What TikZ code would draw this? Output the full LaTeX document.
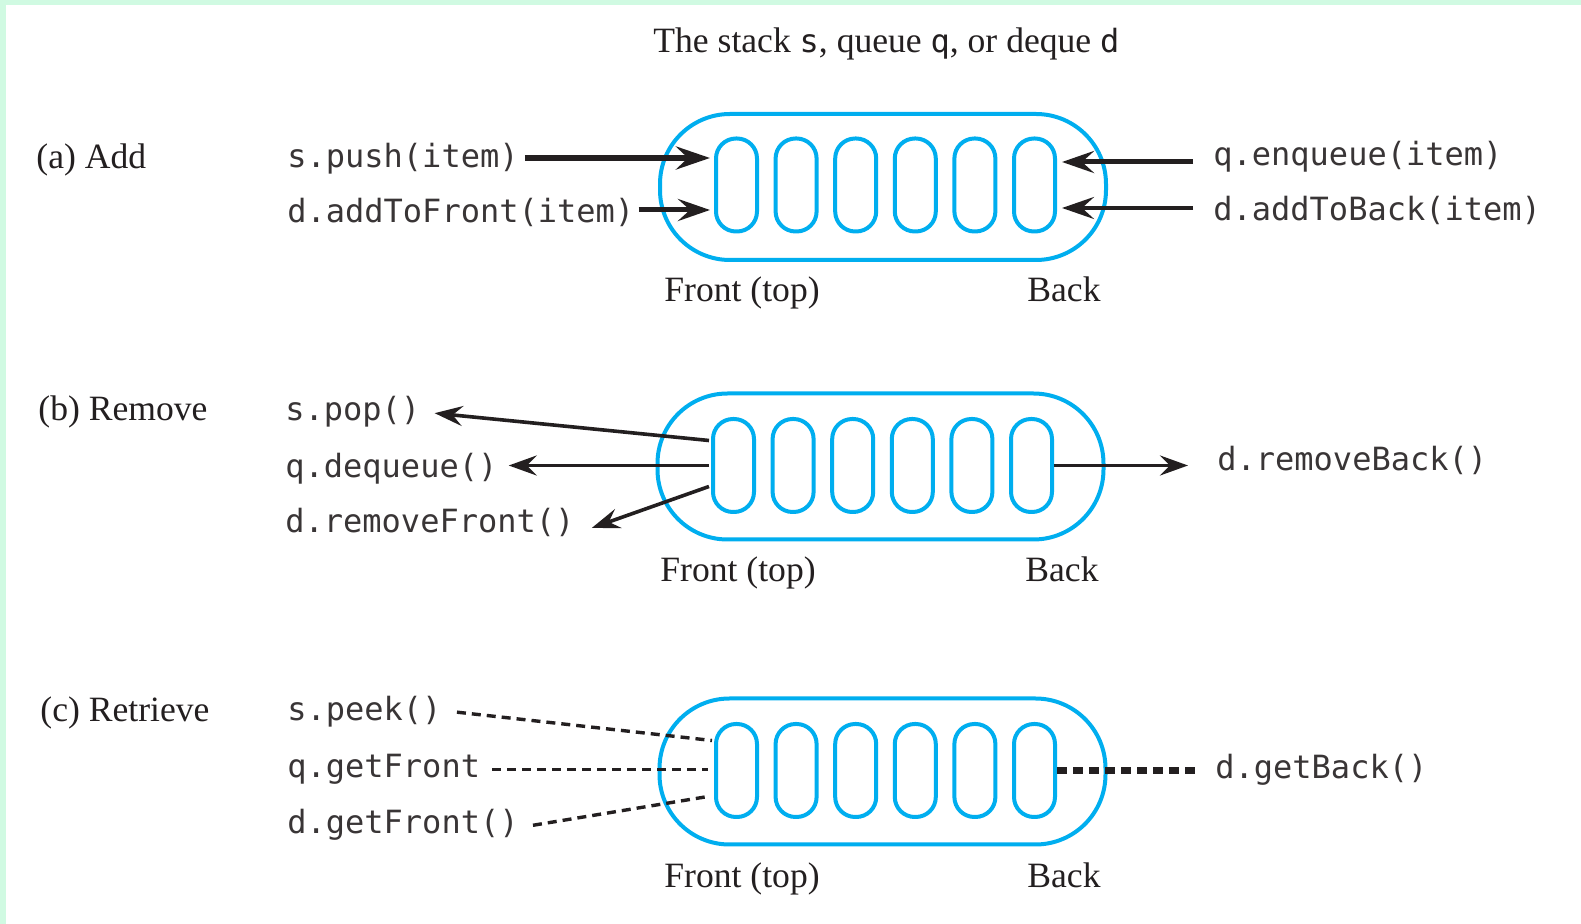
\documentclass[tikz,border=0pt]{standalone}
\usepackage{fontspec}
\setmainfont{Liberation Serif}
\setmonofont{DejaVu Sans Mono}
\usetikzlibrary{arrows.meta,calc}
\definecolor{qblue}{RGB}{0,174,239}
\definecolor{ink}{RGB}{35,31,32}
\definecolor{mint}{RGB}{208,250,226}
\newcommand\cc[1]{{\fontsize{16}{19}\selectfont\ttfamily #1}}
\begin{document}
\begin{tikzpicture}[x=0.5pt,y=-0.5pt,
  outerbox/.style={draw=qblue, line width=2pt, rounded corners=35pt, minimum width=223pt, minimum height=73pt, inner sep=0pt},
  capbox/.style={draw=qblue, line width=2pt, rounded corners=10pt, minimum width=20.5pt, minimum height=46.5pt, inner sep=0pt},
  serif/.style={font=\fontsize{17.8}{20}\selectfont, text=ink, inner sep=0pt, anchor=base west},
  code/.style={font=\fontsize{16}{19}\selectfont\ttfamily, text=ink!90, inner sep=0pt, anchor=base west},
  bigarrow/.style={draw=ink, line width=3pt, -{Stealth[length=17pt,width=11.5pt,inset=6pt]}},
  medarrow/.style={draw=ink, line width=2.5pt, -{Stealth[length=16pt,width=11pt,inset=6pt]}},
  smallarrow/.style={draw=ink, line width=2pt, -{Stealth[length=16pt,width=11pt,inset=6pt]}},
  midarrow/.style={draw=ink, line width=1.8pt, -{Stealth[length=14pt,width=10pt,inset=5pt]}},
  dashline/.style={draw=ink, line width=1.7pt, dash pattern=on 4.5pt off 3pt},
  thickdash/.style={draw=ink, line width=3.5pt, dash pattern=on 5pt off 3pt}]
\useasboundingbox (0,0) rectangle (1581,924);
\fill[white] (0,0) rectangle (1581,924);
\fill[mint] (0,0) rectangle (1581,5);
\fill[mint] (0,0) rectangle (6,924);

% title
\node[serif] (title) at (653,53) {The stack \cc{s}, queue \cc{q}, or deque \cc{d}};

% ---------- (a) Add ----------
\node[serif] (la) at (36,169) {(a) Add};
\node[outerbox] (oa) at (883,187) {};
\foreach \i in {1,...,6} \node[capbox] (a\i) at ({736.5+59.6*(\i-1)},185) {};
\node[serif] (fa) at (664,302) {Front (top)};
\node[serif] (ba) at (1027,302) {Back};
\node[code] (push) at (287,168) {s.push(item)};
\node[code] (atf) at (287,223) {d.addToFront(item)};
\node[code] (enq) at (1213,166) {q.enqueue(item)};
\node[code] (atb) at (1213,221) {d.addToBack(item)};
\coordinate (pe1) at ($(a1.west)+(-4,-27)$);
\coordinate (pe2) at ($(a1.west)+(-4,25)$);
\coordinate (pe3) at ($(a6.east)+(5,-23)$);
\coordinate (pe4) at ($(a6.east)+(5,23)$);
\draw[bigarrow] ($(push.east |- pe1)+(6,0)$) -- (pe1);
\draw[medarrow] ($(atf.east |- pe2)+(4,0)$) -- (pe2);
\draw[medarrow] ($(enq.west |- pe3)+(-20,0)$) -- (pe3);
\draw[smallarrow] ($(atb.west |- pe4)+(-20,0)$) -- (pe4);

% ---------- (b) Remove ----------
\node[serif] (lb) at (38,421) {(b) Remove};
\node[outerbox] (ob) at (880.5,466.5) {};
\foreach \i in {1,...,6} \node[capbox] (b\i) at ({733.5+59.6*(\i-1)},465.5) {};
\node[serif] (fb) at (660,582) {Front (top)};
\node[serif] (bb) at (1025,582) {Back};
\node[code] (pop) at (285,421) {s.pop()};
\node[code] (deq) at (285,478) {q.dequeue()};
\node[code] (rf) at (285,533) {d.removeFront()};
\node[code] (rb) at (1217,471) {d.removeBack()};
\draw[midarrow] ($(b1.west)+(-2,-25)$) -- ($(pop.east)+(14,1)$);
\draw[midarrow] ($(b1.west)+(-2,0)$) -- ($(deq.east |- b1.west)+(11,0)$);
\draw[midarrow] ($(b1.west)+(-2,21)$) -- ($(rf.east)+(17,5)$);
\draw[midarrow] (b6.east) -- ($(rb.west |- b6.east)+(-29,0)$);

% ---------- (c) Retrieve ----------
\node[serif] (lc) at (40,722) {(c) Retrieve};
\node[outerbox] (oc) at (882.5,771.5) {};
\foreach \i in {1,...,6} \node[capbox] (c\i) at ({736.5+59.6*(\i-1)},770.5) {};
\node[serif] (fc) at (664,888) {Front (top)};
\node[serif] (bc) at (1027,888) {Back};
\node[code] (peek) at (287,721) {s.peek()};
\node[code] (gf) at (287,778) {q.getFront};
\node[code] (dgf) at (287,834) {d.getFront()};
\node[code] (gb) at (1215,779) {d.getBack()};
\draw[dashline] ($(peek.east)+(15,0)$) -- ($(c1.west)+(-2,-30)$);
\draw[dashline] ($(gf.east)+(12,0)$) -- ($(gf.east -| c1.west)+(-6,0)$);
\draw[dashline] ($(dgf.east)+(14,0)$) -- ($(c1.west)+(-6,26)$);
\draw[thickdash] (c6.east) -- ($(gb.west |- c6.east)+(-20,0)$);
\end{tikzpicture}
\end{document}
